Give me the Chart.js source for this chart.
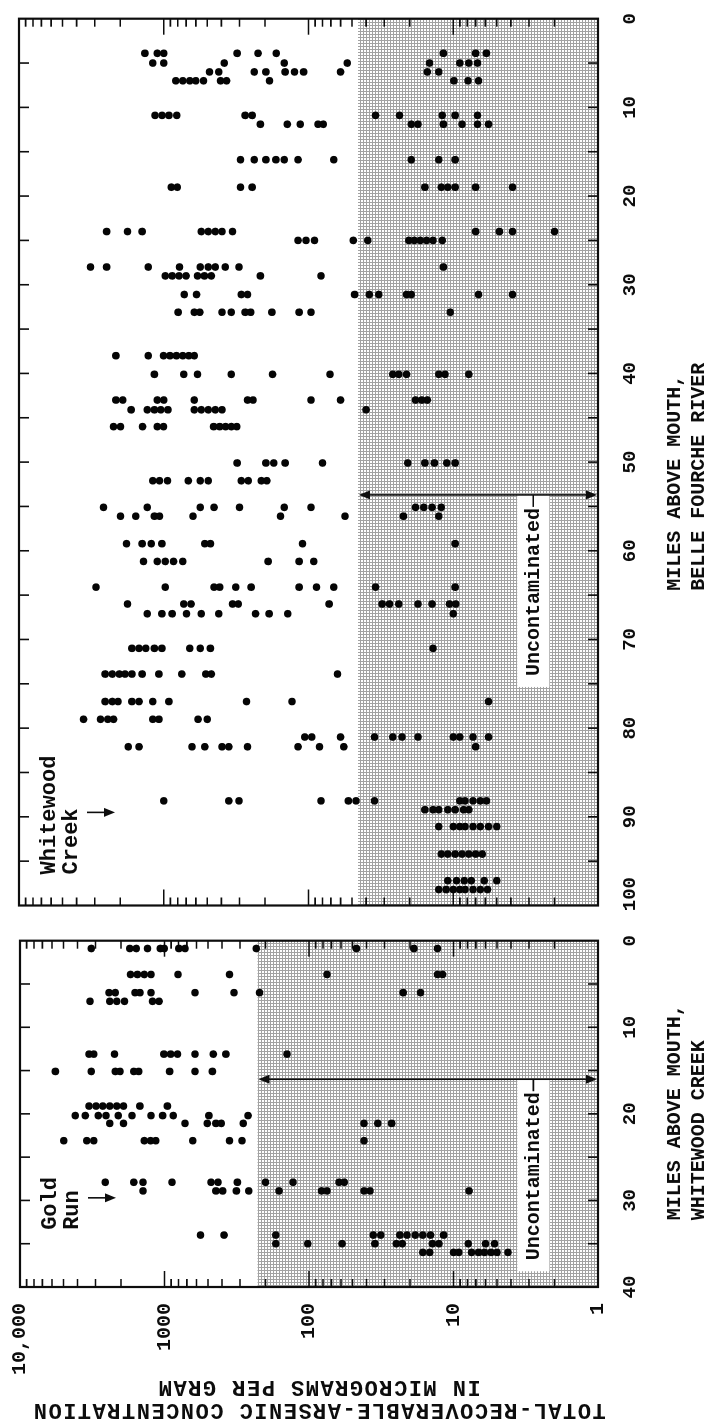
<!DOCTYPE html>
<html>
<head>
<meta charset="utf-8">
<script src="https://cdn.jsdelivr.net/npm/chart.js@4.4.1/dist/chart.umd.min.js"></script>
<style>
  html, body { margin: 0; padding: 0; width: 720px; height: 1427px; background: #fff; overflow: hidden; }
  /* the figure is laid out landscape and turned a quarter turn, like the printed page */
  #sheet { position: absolute; left: 0; top: 0; width: 1427px; height: 720px;
           transform-origin: 0 0; transform: translateY(1427px) rotate(-90deg); }
  #creek { position: absolute; left: 0; top: 0; }
  #river { position: absolute; left: 480px; top: 0; }
</style>
</head>
<body>
<div id="sheet">
  <canvas id="creek" width="505" height="720"></canvas>
  <canvas id="river" width="947" height="720"></canvas>
</div>
<script>
// concentration axis (micrograms per gram, log)
const concTicks = [10000, 1000, 100, 10, 1];
const concLabels = ['10,000', '1000', '100', '10', '1'];

// upper limit of uncontaminated range in each stream
const creekBackground = 227;
const riverBackground = 45.5;

// [miles above mouth, concentrations]
const whitewood = [
  [0.9, [3210, 1740, 1570, 1310, 1070, 1005, 795, 722, 232, 47, 18.8, 12.9]],
  [3.9, [1720, 1540, 1380, 1240, 807, 355, 75, 12.9, 11.9]],
  [6.0, [2420, 2190, 1600, 1480, 1240, 615, 330, 220, 22.3, 16.9]],
  [7.0, [3280, 2390, 2140, 1890, 1210, 1090]],
  [13.1, [3330, 3090, 2220, 1010, 907, 813, 615, 459, 376, 142]],
  [15.1, [5690, 3210, 2190, 2030, 1630, 1510, 921, 615, 466]],
  [19.1, [3330, 2980, 2670, 2390, 2140, 1920, 1480, 955]],
  [20.2, [4150, 3530, 2870, 2540, 2090, 1680, 1240, 1030, 869, 493, 264]],
  [21.1, [2390, 1920, 722, 505, 441, 405, 285, 41.6, 33.4, 26.8]],
  [23.1, [4980, 3450, 3090, 1380, 1250, 1150, 638, 355, 291, 41.6]],
  [27.9, [2570, 1630, 1410, 887, 476, 426, 313, 200, 129, 62, 57]],
  [28.9, [1410, 441, 396, 318, 261, 161, 82, 75, 41.6, 37.8, 7.8]],
  [34.0, [563, 387, 170, 35.9, 31.9, 23.5, 21, 18.4, 16.3, 14.4, 11.7]],
  [35.0, [170, 102, 59, 35, 24.9, 22.6, 14, 12.6, 7.9, 6.0, 5.2]],
  [36.0, [16.3, 14.6, 10, 9.2, 7.5, 6.7, 6.1, 5.5, 5.0, 4.2]]
];

const belleFourche = [
  [3.9, [1350, 1110, 1000, 311, 223, 167, 11.7, 7.0, 5.9]],
  [5.0, [1190, 1000, 382, 147, 54, 14.6, 9.0, 7.8, 6.8]],
  [6.0, [483, 417, 237, 197, 145, 125, 108, 60, 15.1, 12.6]],
  [7.0, [825, 739, 662, 601, 531, 405, 368, 186, 9.9, 7.9, 6.7]],
  [10.9, [1148, 1028, 921, 813, 274, 245, 34.4, 23.5, 11.9, 9.7, 6.8]],
  [11.9, [215, 140, 114, 86, 79, 19.5, 17.5, 11.7, 8.7, 6.8, 5.7]],
  [15.9, [295, 237, 197, 168, 147, 118, 67, 19.5, 12.6, 9.7]],
  [19.0, [887, 807, 295, 245, 15.7, 12.1, 10.9, 9.7, 7.0, 3.9]],
  [24.0, [2480, 1780, 1410, 551, 493, 441, 396, 335, 7.0, 4.8, 3.9, 2.0]],
  [25.0, [118, 104, 91, 49, 39, 20.3, 18.6, 16.9, 15.3, 13.8, 11.9]],
  [28.0, [3210, 2480, 1280, 778, 559, 493, 441, 376, 302, 11.7]],
  [29.0, [977, 875, 784, 701, 584, 524, 469, 215, 82]],
  [31.1, [722, 593, 291, 264, 48, 38, 32.7, 21, 19.5, 6.7, 3.9]],
  [33.1, [795, 615, 563, 396, 342, 274, 251, 179, 116, 96, 10.5]],
  [38.0, [2140, 1280, 1005, 907, 818, 739, 671, 615]],
  [40.1, [1160, 728, 584, 342, 177, 71, 26.2, 23.8, 21, 12.6, 11.4, 7.8]],
  [43.0, [2140, 1920, 1110, 1000, 615, 264, 242, 96, 60, 18.2, 16.5, 15.1]],
  [44.1, [1680, 1300, 1160, 1050, 936, 615, 551, 493, 441, 396, 40]],
  [46.0, [2220, 1990, 1400, 1110, 1005, 452, 411, 374, 342, 313]],
  [50.1, [311, 197, 174, 145, 80, 20.6, 15.7, 13.5, 11.1, 9.7]],
  [52.1, [1190, 1070, 942, 676, 559, 493, 291, 261, 212, 194]],
  [55.1, [2610, 1300, 559, 449, 300, 147, 96, 18.2, 16, 14, 12.1]],
  [56.1, [1990, 1560, 1160, 1070, 628, 156, 56, 22.1, 12.6]],
  [59.2, [1810, 1410, 1220, 1030, 520, 476, 110, 9.7]],
  [61.2, [1380, 1110, 977, 855, 739, 190, 116, 92]],
  [64.1, [2940, 977, 449, 411, 318, 249, 116, 88, 67, 34.4, 9.7]],
  [66.0, [1780, 728, 647, 335, 306, 72, 31, 27.6, 23.8, 17.5, 14, 10.6, 9.6]],
  [67.1, [1300, 1030, 875, 697, 551, 417, 232, 187, 139, 10]],
  [71.0, [1660, 1480, 1330, 1160, 1030, 662, 559, 476, 13.8]],
  [73.9, [2540, 2270, 2030, 1850, 1660, 1410, 1080, 750, 512, 469, 63]],
  [77.0, [2540, 2270, 2070, 1660, 1480, 1190, 921, 268, 130, 5.7]],
  [79.0, [3580, 2730, 2440, 2220, 1190, 1080, 579, 500]],
  [81.0, [106, 95, 60, 35, 26.2, 22.6, 17.5, 10, 9, 7.3, 5.7]],
  [82.1, [1760, 1480, 638, 520, 396, 355, 264, 118, 84, 57, 7.0]],
  [88.2, [1000, 355, 302, 82, 53, 47, 35, 9, 8.3, 7.3, 6.5, 5.9]],
  [89.2, [15.7, 13.8, 12.6, 10.9, 9.7, 8.5, 7.8]],
  [91.1, [12.6, 10, 9, 8.3, 7.3, 6.5, 5.7, 5.0]],
  [94.2, [12.1, 10.9, 9.7, 8.7, 7.8, 7.0, 6.3]],
  [97.2, [10.9, 9.5, 8.4, 7.5, 6.1, 5.0]],
  [98.2, [12.6, 11.2, 10, 9, 8.3, 7.3, 6.5, 5.8]]
];

const FONT = '"Liberation Mono", "DejaVu Sans Mono", monospace';
const INK = '#0d0d0d';

// fine grid screen used for the shaded band
const tile = document.createElement('canvas');
tile.width = 3; tile.height = 3;
const tc = tile.getContext('2d');
tc.fillStyle = '#fff'; tc.fillRect(0, 0, 3, 3);
tc.fillStyle = '#a2a2a2'; tc.fillRect(0, 0, 3, 1); tc.fillRect(0, 0, 1, 3);

function head(ctx, x, y, dir) {
  ctx.beginPath();
  ctx.moveTo(x, y);
  ctx.lineTo(x - 4.5, y - dir * 11);
  ctx.lineTo(x + 4.5, y - dir * 11);
  ctx.closePath();
  ctx.fill();
}

const decor = {
  id: 'decor',
  beforeDatasetsDraw(chart, args, o) {
    const { ctx, chartArea: a, scales: { x, y } } = chart;
    ctx.save();

    // uncontaminated band
    const yb = y.getPixelForValue(o.background);
    ctx.fillStyle = ctx.createPattern(tile, 'repeat');
    ctx.fillRect(a.left, yb, a.right - a.left, a.bottom - yb);

    // inward ticks
    ctx.strokeStyle = INK;
    ctx.lineWidth = 1.6;
    ctx.beginPath();
    for (let d = 1; d <= 10000; d *= 10) {
      for (let k = 1; k <= 9; k++) {
        const v = d * k;
        if (v > 10000) break;
        const py = y.getPixelForValue(v);
        const len = k === 1 ? 16 : 8;
        ctx.moveTo(a.left, py); ctx.lineTo(a.left + len, py);
        ctx.moveTo(a.right, py); ctx.lineTo(a.right - len, py);
      }
    }
    for (let m = 5; m < o.maxMile; m += 5) {
      const px = x.getPixelForValue(m);
      ctx.moveTo(px, a.top); ctx.lineTo(px, a.top + 10);
      ctx.moveTo(px, a.bottom); ctx.lineTo(px, a.bottom - 10);
    }
    ctx.stroke();

    ctx.lineWidth = 2.2;
    ctx.strokeRect(a.left, a.top, a.right - a.left, a.bottom - a.top);

    // "Uncontaminated" arrow
    const xa = x.getPixelForValue(o.arrowMile);
    const ty = y.getPixelForValue(2.8);
    ctx.font = 'bold 20px ' + FONT;
    const w = ctx.measureText('Uncontaminated').width;
    ctx.fillStyle = '#fff';
    ctx.fillRect(xa - 14 - w - 10, ty - 16, w + 24, 32);
    ctx.fillStyle = INK;
    ctx.textAlign = 'right';
    ctx.textBaseline = 'middle';
    ctx.fillText('Uncontaminated', xa - 13, ty + 1);
    ctx.lineWidth = 1.6;
    ctx.beginPath();
    ctx.moveTo(xa - 12, ty); ctx.lineTo(xa, ty);
    ctx.moveTo(xa, yb + 6); ctx.lineTo(xa, a.bottom - 6);
    ctx.stroke();
    head(ctx, xa, yb + 1, -1);
    head(ctx, xa, a.bottom - 1, 1);

    // tributary note
    ctx.font = 'bold 22px ' + FONT;
    ctx.textAlign = 'left';
    const xn = x.getPixelForValue(o.note.mile);
    o.note.text.forEach((t, i) => ctx.fillText(t, xn, a.top + 30 + i * 22));
    const xw = x.getPixelForValue(o.note.arrowMile);
    ctx.beginPath();
    ctx.moveTo(xw, a.top + 68); ctx.lineTo(xw, a.top + 88);
    ctx.stroke();
    head(ctx, xw, a.top + 96, 1);

    ctx.restore();
  },
  afterDraw(chart, args, o) {
    const { ctx, chartArea: a, scales: { x } } = chart;
    ctx.save();
    ctx.fillStyle = INK;
    ctx.font = 'bold 20px ' + FONT;
    ctx.textAlign = 'left';
    ctx.textBaseline = 'middle';
    const x0 = x.getPixelForValue(o.titleMile);
    o.title.forEach((t, i) => ctx.fillText(t, x0, a.bottom + 77 + i * 24));
    if (o.yTitle) {
      ctx.translate(17, (a.top + a.bottom) / 2 + 10);
      ctx.rotate(-Math.PI / 2);
      ctx.font = 'bold 22px ' + FONT;
      ctx.letterSpacing = '1.5px';
      ctx.textAlign = 'center';
      o.yTitle.forEach((t, i) => ctx.fillText(t, 0, i * 23));
    }
    ctx.restore();
  }
};

function points(rows) {
  return rows.flatMap(([m, vals]) => vals.map(v => ({ x: m, y: v })));
}

function panel(id, rows, cfg) {
  return new Chart(document.getElementById(id), {
    type: 'scatter',
    data: {
      datasets: [{
        data: points(rows),
        backgroundColor: '#050505',
        borderWidth: 0,
        pointRadius: 3.8,
        clip: 6
      }]
    },
    options: {
      responsive: false,
      animation: false,
      devicePixelRatio: 1,
      events: [],
      layout: { autoPadding: false, padding: { top: 19, right: cfg.right, bottom: 0, left: 0 } },
      plugins: {
        legend: { display: false },
        tooltip: { enabled: false },
        decor: cfg.decor
      },
      scales: {
        x: {
          type: 'linear',
          min: 0,
          max: cfg.decor.maxMile,
          reverse: true,
          grid: { display: false },
          border: { display: false },
          ticks: {
            stepSize: 10,
            autoSkip: false,
            maxRotation: 0,
            padding: 13,
            color: INK,
            font: { family: FONT, size: 19, weight: 'bold' },
            // the last river label is set off the panel corner, as printed
            callback: v => (v === 100 ? '  100' : String(v))
          },
          afterFit: s => { s.height = 122; }
        },
        y: {
          type: 'logarithmic',
          min: 1,
          max: 10000,
          grid: { display: false },
          border: { display: false },
          afterBuildTicks: s => { s.ticks = concTicks.map(v => ({ value: v })); },
          ticks: {
            display: cfg.showConc,
            autoSkip: false,
            padding: 8,
            color: INK,
            font: { family: FONT, size: 20, weight: 'bold' },
            callback: v => {
              const i = concTicks.indexOf(v);
              return i >= 0 ? concLabels[i] : null;
            }
          },
          afterFit: s => { s.width = cfg.left; }
        }
      }
    },
    plugins: [decor]
  });
}

panel('creek', whitewood, {
  left: 140, right: 7, showConc: true,
  decor: {
    maxMile: 40,
    background: creekBackground,
    arrowMile: 16,
    note: { text: ['Gold', 'Run'], mile: 33.4, arrowMile: 29.7 },
    titleMile: 32.3,
    title: ['MILES ABOVE MOUTH,', 'WHITEWOOD CREEK'],
    yTitle: ['TOTAL-RECOVERABLE-ARSENIC CONCENTRATION', 'IN MICROGRAMS PER GRAM']
  }
});

panel('river', belleFourche, {
  left: 39, right: 11, showConc: false,
  decor: {
    maxMile: 100,
    background: riverBackground,
    arrowMile: 53.7,
    note: { text: ['Whitewood', 'Creek'], mile: 96.5, arrowMile: 89.5 },
    titleMile: 64.5,
    title: ['MILES ABOVE MOUTH,', 'BELLE FOURCHE RIVER']
  }
});
</script>
</body>
</html>
